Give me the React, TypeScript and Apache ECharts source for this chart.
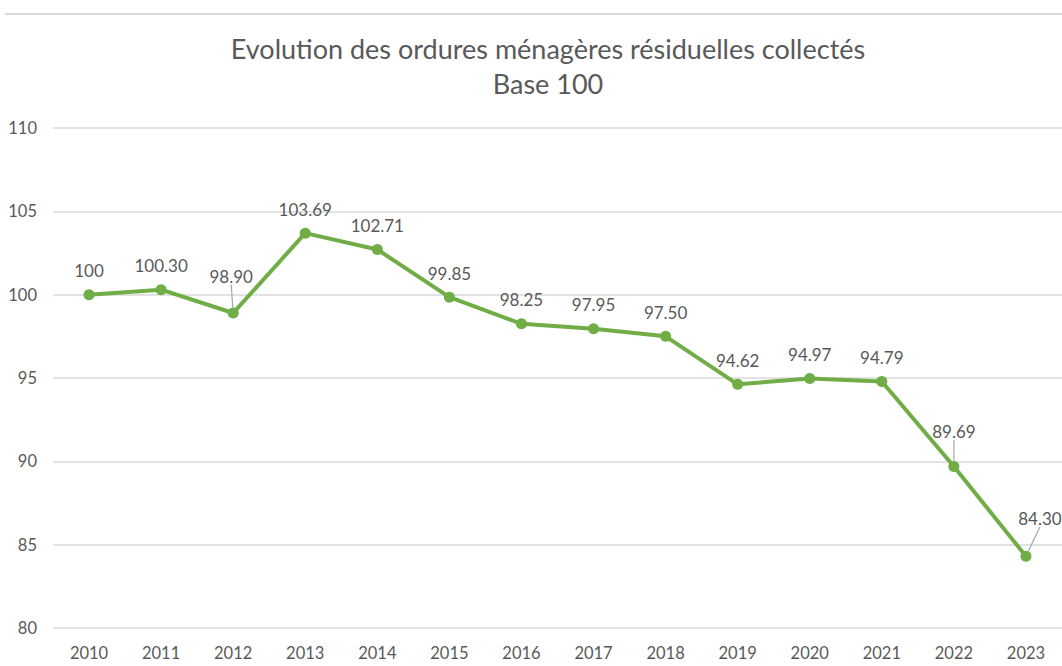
import React, { useEffect, useRef } from "react";
import * as echarts from "echarts";

const years = ["2010","2011","2012","2013","2014","2015","2016","2017","2018","2019","2020","2021","2022","2023"];
const values = [100, 100.3, 98.9, 103.69, 102.71, 99.85, 98.25, 97.95, 97.5, 94.62, 94.97, 94.79, 89.69, 84.3];
const labels = ["100","100.30","98.90","103.69","102.71","99.85","98.25","97.95","97.50","94.62","94.97","94.79","89.69","84.30"];
const yTicks = [80, 85, 90, 95, 100, 105, 110];
const titleLines = ["Evolution des ordures ménagères résiduelles collectés", "Base 100"];
const leaderIdx: Record<number, [number, number]> = { 2: [-2, -13], 12: [0, -11], 13: [14, -14] };

export default function App() {
  const ref = useRef<HTMLDivElement>(null);
  useEffect(() => {
    if (!ref.current) return;
    const chart = echarts.init(ref.current, null, { renderer: "svg" });
    const font = "Lato, 'Open Sans', sans-serif";
    const data = values.map((v, i) =>
      leaderIdx[i]
        ? { value: v, labelLine: { show: true, lineStyle: { color: "#a6a6a6", width: 1.2 } } }
        : { value: v }
    );
    chart.setOption({
      animation: false,
      backgroundColor: "#ffffff",
      title: {
        text: titleLines.join("\n"),
        left: 543,
        textAlign: "center",
        top: 26,
        textStyle: { fontFamily: font, fontSize: 27, fontWeight: "normal", color: "#595959", lineHeight: 35 },
      },
      graphic: [
        { type: "line", shape: { x1: 5, y1: 14, x2: 1062, y2: 14 }, style: { stroke: "#d9d9d9", lineWidth: 2 } },
      ],
      grid: { left: 53, top: 128, width: 1017, height: 500, containLabel: false },
      xAxis: {
        type: "category",
        data: years,
        boundaryGap: true,
        axisLine: { show: false },
        axisTick: { show: false },
        axisLabel: { fontFamily: font, fontSize: 16.5, color: "#595959", margin: 16 },
      },
      yAxis: {
        type: "value",
        min: yTicks[0],
        max: yTicks[yTicks.length - 1],
        interval: 5,
        axisLine: { show: false },
        axisTick: { show: false },
        splitLine: { lineStyle: { color: "#d9d9d9", width: 1.5 } },
        axisLabel: { fontFamily: font, fontSize: 16.5, color: "#595959", margin: 16, align: "right" },
      },
      series: [
        {
          type: "line",
          data,
          symbol: "circle",
          symbolSize: 11,
          lineStyle: { color: "#70ad47", width: 4 },
          itemStyle: { color: "#70ad47" },
          label: {
            show: true,
            position: "top",
            distance: 10,
            fontFamily: font,
            fontSize: 17,
            color: "#595959",
            formatter: (p: any) => labels[p.dataIndex],
          },
          labelLine: { show: false },
          labelLayout: (p: any) => {
            const o = leaderIdx[p.dataIndex];
            if (!o) return {};
            return { dx: o[0], dy: o[1] };
          },
        },
      ],
    });
    return () => chart.dispose();
  }, []);
  return <div ref={ref} style={{ position: "fixed", left: 0, top: 0, width: 1062, height: 666 }} />;
}
